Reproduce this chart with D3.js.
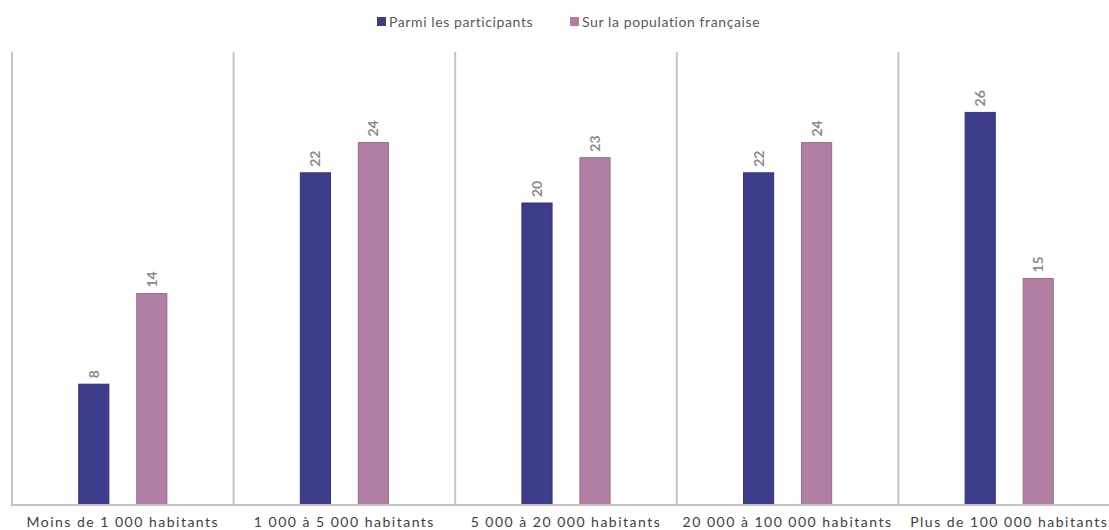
<!DOCTYPE html>
<html>
<head>
<meta charset="utf-8">
<script src="https://cdn.jsdelivr.net/npm/d3@7"></script>
<style>
  body { margin: 0; background: #fff; }
  svg { display: block; font-family: Lato, "Open Sans", sans-serif; }
</style>
</head>
<body>
<svg id="chart"></svg>
<script>
const width = 1109;
const height = 530;

// Data
const categories = [
    "Moins de 1 000 habitants",
    "1 000 à 5 000 habitants",
    "5 000 à 20 000 habitants",
    "20 000 à 100 000 habitants",
    "Plus de 100 000 habitants"
];
const seriesNames = ["Parmi les participants", "Sur la population française"];
const participants = [8, 22, 20, 22, 26];
const population = [14, 24, 23, 24, 15];
const colors = ["#3c3c8a", "#b07fa2"];

const margin = { top: 52, left: 12, bottom: 25 };
const plotRight = 12 + 5 * 221.6;

const svg = d3.select("#chart")
    .attr("width", width)
    .attr("height", height);

const x = d3.scaleBand()
    .domain(categories)
    .range([margin.left, plotRight])
    .paddingInner(0)
    .paddingOuter(0);

const y = d3.scaleLinear()
    .domain([0, 30])
    .range([height - margin.bottom, margin.top]);

// Series offset inside each category
const xs = d3.scaleBand()
    .domain(seriesNames)
    .range([x.bandwidth() / 2 - 58, x.bandwidth() / 2 + 58])
    .paddingInner(0.48)
    .paddingOuter(0.24);

// Category separators
svg.append("g")
    .selectAll("line")
    .data(categories)
    .join("line")
    .attr("x1", d => x(d))
    .attr("x2", d => x(d))
    .attr("y1", y(30))
    .attr("y2", y(0))
    .attr("stroke", "#c4c4c4")
    .attr("stroke-width", 2);

// Bars
const rows = categories.map((c, i) => ({ cat: c, values: [participants[i], population[i]] }));

const groups = svg.append("g")
    .selectAll("g")
    .data(rows)
    .join("g")
    .attr("transform", d => `translate(${x(d.cat)},0)`);

groups.selectAll("rect")
    .data(d => d.values.map((v, j) => ({ name: seriesNames[j], v, j })))
    .join("rect")
    .attr("x", d => xs(d.name))
    .attr("width", xs.bandwidth())
    .attr("y", d => y(d.v))
    .attr("height", d => y(0) - y(d.v))
    .attr("fill", d => colors[d.j])
    .attr("stroke", d => d3.color(colors[d.j]).darker(0.4))
    .attr("stroke-width", 1);

// Value labels (rotated)
groups.selectAll("text")
    .data(d => d.values.map((v, j) => ({ name: seriesNames[j], v, j })))
    .join("text")
    .attr("transform", d => `translate(${xs(d.name) + xs.bandwidth() / 2 + 5},${y(d.v) - 6}) rotate(-90)`)
    .attr("text-anchor", "start")
    .attr("font-size", 14)
    .attr("font-weight", "bold")
    .attr("fill", "#8c8c8c")
    .text(d => d.v);

// Bottom axis line
svg.append("line")
    .attr("x1", margin.left - 1)
    .attr("x2", width)
    .attr("y1", y(0))
    .attr("y2", y(0))
    .attr("stroke", "#c4c4c4")
    .attr("stroke-width", 2);

// Category labels
svg.append("g")
    .selectAll("text")
    .data(categories)
    .join("text")
    .attr("x", d => x(d) + x.bandwidth() / 2)
    .attr("y", 527)
    .attr("text-anchor", "middle")
    .attr("font-size", 14)
    .attr("letter-spacing", 1.5)
    .attr("fill", "#404040")
    .text(d => d);

// Legend
const legendX = [377, 570];
const legend = svg.append("g")
    .selectAll("g")
    .data(seriesNames)
    .join("g")
    .attr("transform", (d, i) => `translate(${legendX[i]},17)`);

legend.append("rect")
    .attr("width", 9)
    .attr("height", 9)
    .attr("fill", (d, i) => colors[i]);

legend.append("text")
    .attr("x", 12)
    .attr("y", 9.5)
    .attr("font-size", 14)
    .attr("letter-spacing", 0.6)
    .attr("fill", "#595959")
    .text(d => d);
</script>
</body>
</html>
